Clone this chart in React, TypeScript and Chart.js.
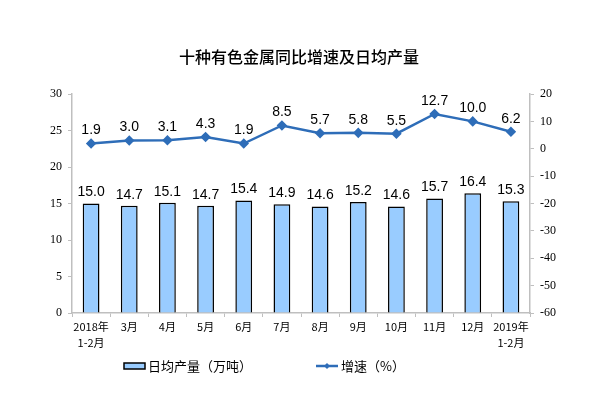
import React, { useEffect, useRef } from "react";
import { Chart, registerables } from "chart.js";

Chart.register(...registerables);

const categories: string[][] = [
  ["2018年", "1-2月"], ["3月"], ["4月"], ["5月"], ["6月"], ["7月"], ["8月"], ["9月"], ["10月"], ["11月"], ["12月"], ["2019年", "1-2月"],
];
const dailyOutput = [15.0, 14.7, 15.1, 14.7, 15.4, 14.9, 14.6, 15.2, 14.6, 15.7, 16.4, 15.3];
const growthRate = [1.9, 3.0, 3.1, 4.3, 1.9, 8.5, 5.7, 5.8, 5.5, 12.7, 10.0, 6.2];
const titleText = "十种有色金属同比增速及日均产量";
const barLegend = "日均产量（万吨）";
const lineLegend = "增速（%）";

const BAR_FILL = "#99CCFF";
const LINE_COLOR = "#2E6DB8";
const CJK = "'Noto Sans CJK SC', sans-serif";
const SERIF = "'Liberation Serif', 'DejaVu Serif', serif";
const SANS = "'Liberation Sans', Arial, sans-serif";

const overlay = {
  id: "overlay",
  afterDatasetsDraw(chart: any) {
    const ctx = chart.ctx;
    ctx.save();
    ctx.textAlign = "center";
    ctx.textBaseline = "bottom";
    ctx.fillStyle = "#000";
    ctx.font = `14px ${SANS}`;
    chart.getDatasetMeta(0).data.forEach((el: any, i: number) => {
      ctx.fillText(dailyOutput[i].toFixed(1), el.x, el.y - 4);
    });
    chart.getDatasetMeta(1).data.forEach((el: any, i: number) => {
      ctx.fillText(growthRate[i].toFixed(1), el.x, el.y - 6);
    });
    ctx.restore();
  },
  afterDraw(chart: any) {
    const ctx = chart.ctx;
    ctx.save();
    ctx.fillStyle = "#000";
    ctx.font = `500 16px ${CJK}`;
    ctx.textAlign = "center";
    ctx.textBaseline = "middle";
    ctx.fillText(titleText, 299, 57);
    const ly = 366;
    ctx.fillStyle = BAR_FILL;
    ctx.strokeStyle = "#000";
    ctx.lineWidth = 1.5;
    ctx.fillRect(124, ly - 3, 21, 6);
    ctx.strokeRect(124, ly - 3, 21, 6);
    ctx.fillStyle = "#000";
    ctx.font = `13px ${CJK}`;
    ctx.textAlign = "left";
    ctx.fillText(barLegend, 148, ly);
    ctx.strokeStyle = LINE_COLOR;
    ctx.lineWidth = 2.5;
    ctx.beginPath();
    ctx.moveTo(316, ly);
    ctx.lineTo(338, ly);
    ctx.stroke();
    ctx.fillStyle = LINE_COLOR;
    ctx.beginPath();
    ctx.moveTo(327, ly - 3);
    ctx.lineTo(330, ly);
    ctx.lineTo(327, ly + 3);
    ctx.lineTo(324, ly);
    ctx.closePath();
    ctx.fill();
    ctx.fillStyle = "#000";
    ctx.fillText(lineLegend, 341, ly);
    ctx.restore();
  },
};

export default function App() {
  const ref = useRef<HTMLCanvasElement>(null);
  useEffect(() => {
    document.body.style.margin = "0";
    const chart = new Chart(ref.current!, {
      type: "bar",
      data: {
        labels: categories,
        datasets: [
          {
            type: "bar",
            label: barLegend,
            data: dailyOutput,
            backgroundColor: BAR_FILL,
            borderColor: "#000",
            borderWidth: 1.5,
            barPercentage: 0.44,
            categoryPercentage: 1,
            yAxisID: "y",
            order: 2,
          },
          {
            type: "line",
            label: lineLegend,
            data: growthRate,
            borderColor: LINE_COLOR,
            backgroundColor: LINE_COLOR,
            borderWidth: 2.5,
            pointStyle: "rectRot",
            pointRadius: 3.5,
            tension: 0,
            yAxisID: "y1",
            order: 1,
          } as any,
        ],
      },
      options: {
        responsive: false,
        animation: false,
        layout: { padding: { top: 94, left: 0, right: 0, bottom: 0 } },
        plugins: { legend: { display: false }, title: { display: false }, tooltip: { enabled: false } },
        scales: {
          x: {
            offset: true,
            grid: { display: true, offset: true, drawOnChartArea: false, drawTicks: true, tickLength: 4, color: "#BFBFBF" },
            border: { color: "#BFBFBF", width: 1.5 },
            ticks: { color: "#000", font: { family: CJK, size: 11, lineHeight: 1.45 }, maxRotation: 0, autoSkip: false, padding: 2 },
            afterFit: (s: any) => { s.height = 84; },
          },
          y: {
            position: "left",
            min: 0,
            max: 30,
            ticks: { stepSize: 5, color: "#000", font: { family: SERIF, size: 12 }, padding: 6 },
            grid: { display: true, drawOnChartArea: false, drawTicks: true, tickLength: 4, color: "#BFBFBF" },
            border: { color: "#BFBFBF", width: 1.5 },
            afterFit: (s: any) => { s.width = 72; },
          },
          y1: {
            position: "right",
            min: -60,
            max: 20,
            ticks: { stepSize: 10, color: "#000", font: { family: SERIF, size: 12 }, padding: 6 },
            grid: { display: true, drawOnChartArea: false, drawTicks: true, tickLength: 4, color: "#BFBFBF" },
            border: { color: "#BFBFBF", width: 1.5 },
            afterFit: (s: any) => { s.width = 68; },
          },
        },
      },
      plugins: [overlay],
    });
    return () => chart.destroy();
  }, []);
  return <canvas ref={ref} width={598} height={397} style={{ display: "block" }} />;
}
